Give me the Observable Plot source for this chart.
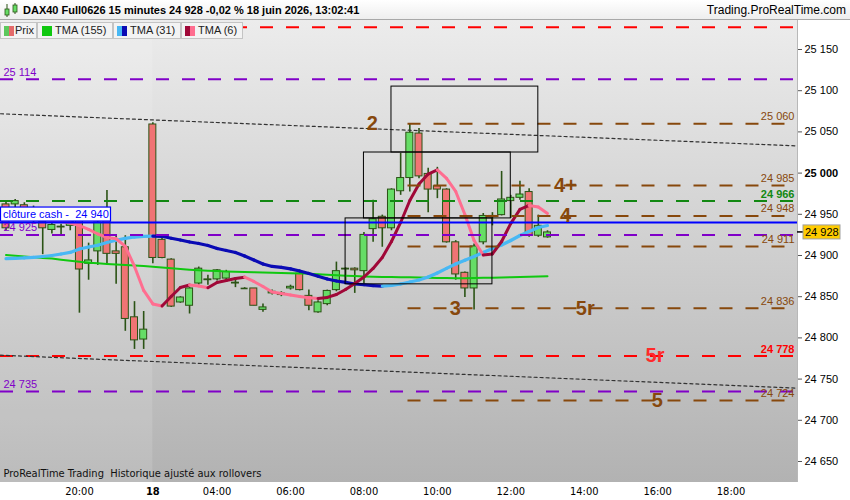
<!DOCTYPE html>
<html><head><meta charset="utf-8">
<script src="https://cdn.jsdelivr.net/npm/d3@7"></script>
<script src="https://cdn.jsdelivr.net/npm/@observablehq/plot@0.6"></script>
<style>
body{margin:0;background:#fff;font-family:"Liberation Sans",Arial,sans-serif;}
#wrap{position:relative;width:850px;height:500px;overflow:hidden;background:#fff;}
#chart{position:absolute;left:0;top:20px;}
#title{position:absolute;left:0;top:0;width:850px;height:20px;box-sizing:border-box;background:linear-gradient(#ffffff,#eeeeee);border-bottom:1px solid #a8a8a8;z-index:5;}
#title .t{position:absolute;left:23px;top:0;line-height:21px;font-size:11px;font-weight:bold;color:#000;white-space:nowrap;}
#title .r{position:absolute;right:4px;top:0;line-height:21px;font-size:12px;color:#000;}
#title svg{position:absolute;left:4px;top:3px;}
.lg{position:absolute;top:22px;height:17px;box-sizing:border-box;background:#f3f3f3;border:1px solid #c4c4c4;font-size:11px;color:#222;line-height:15px;z-index:4;white-space:nowrap;}
.lg i{position:absolute;top:3px;width:10px;height:10px;display:block;}
.lg span{position:absolute;top:0;}
</style></head>
<body>
<div id="wrap">
  <div id="title">
    <svg width="14" height="15"><line x1="3" y1="1" x2="3" y2="14" stroke="#2b5315"/><rect x="1" y="6" width="4" height="6" fill="#66dd66" stroke="#2b5315" stroke-width="0.8"/><line x1="11" y1="0" x2="11" y2="11" stroke="#2b5315"/><rect x="9" y="2" width="4" height="7" fill="#66dd66" stroke="#2b5315" stroke-width="0.8"/></svg>
    <div class="t">DAX40 Full0626 15 minutes 24 928 -0,02 % 18 juin 2026, 13:02:41</div>
    <div class="r">Trading.ProRealTime.com</div>
  </div>
  <div class="lg" style="left:0;width:37px;"><i style="left:3px;background:linear-gradient(90deg,#5cc85c 50%,#e46a6a 50%);"></i><span style="left:14px;">Prix</span></div>
  <div class="lg" style="left:37px;width:76px;"><i style="left:4px;background:#10c810;"></i><span style="left:17px;">TMA (155)</span></div>
  <div class="lg" style="left:113px;width:68px;"><i style="left:3px;background:linear-gradient(90deg,#48b8f4 50%,#0a0ab4 50%);"></i><span style="left:16px;">TMA (31)</span></div>
  <div class="lg" style="left:181px;width:62px;"><i style="left:3px;background:linear-gradient(90deg,#a00838 50%,#ff6e90 50%);"></i><span style="left:16px;">TMA (6)</span></div>
  <div id="chart"></div>
</div>
<script>
// ---------- data ----------
const times = [
 "17 18:00","17 18:15","17 18:30","17 18:45","17 19:00","17 19:15","17 19:30","17 19:45",
 "17 20:00","17 20:15","17 20:30","17 20:45","17 21:00","17 21:15","17 21:30","17 21:45",
 "18 02:15","18 02:30","18 02:45","18 03:00","18 03:15","18 03:30","18 03:45","18 04:00",
 "18 04:15","18 04:30","18 04:45","18 05:00","18 05:15","18 05:30","18 05:45","18 06:00",
 "18 06:15","18 06:30","18 06:45","18 07:00","18 07:15","18 07:30","18 07:45","18 08:00",
 "18 08:15","18 08:30","18 08:45","18 09:00","18 09:15","18 09:30","18 09:45","18 10:00",
 "18 10:15","18 10:30","18 10:45","18 11:00","18 11:15","18 11:30","18 11:45","18 12:00",
 "18 12:15","18 12:30","18 12:45","18 13:00"];
const open = [24962,24962,24961,24944,24941,24931,24934,24936,24942,24890,24905,24942,24905,24910,24825,24798,
 25059,24919,24895,24843,24839,24866,24870,24871,24872,24866,24860,24860,24834,24854,24852,24860,
 24878,24851,24831,24841,24858,24883,24884,24881,24932,24947,24933,24978,24994,25048,24999,24984,
 24980,24916,24879,24860,24916,24948,24949,24966,24970,24977,24924,24922];
const high = [24966,24968,24964,24960,24952,24940,24938,24946,24946,24915,24946,24979,24924,24924,24844,24832,
 25061,24921,24896,24850,24861,24886,24876,24883,24882,24870,24861,24860,24841,24858,24856,24864,
 24879,24858,24845,24858,24892,24885,24885,24928,24967,24949,24981,25024,25059,25054,25006,25007,
 24981,24918,24880,24914,24951,24952,25002,24973,24990,24981,24949,24930];
const low = [24930,24955,24945,24940,24901,24926,24924,24930,24830,24870,24888,24888,24865,24808,24786,24786,
 24890,24896,24837,24842,24829,24864,24864,24869,24870,24861,24860,24839,24831,24852,24850,24858,
 24857,24833,24830,24839,24856,24865,24854,24866,24916,24910,24930,24973,24977,24993,24952,24969,
 24915,24870,24849,24834,24913,24936,24948,24945,24967,24922,24922,24921];
const close = [24933,24966,24950,24956,24933,24937,24935,24941,24883,24894,24940,24902,24902,24823,24797,24810,
 24897,24897,24838,24849,24860,24884,24871,24882,24880,24867,24860,24839,24837,24856,24854,24862,
 24858,24839,24843,24857,24881,24884,24882,24925,24944,24933,24980,24994,25049,24996,24980,24980,
 24916,24877,24860,24911,24948,24947,24968,24970,24974,24924,24936,24928];
const tma155 = [24900.6,24899.7,24898.8,24898.0,24897.1,24896.3,24894.9,24893.6,24892.3,24891.2,24890.6,24889.8,24889.1,24888.4,24887.8,24887.2,
 24886.4,24885.5,24884.5,24883.5,24882.7,24882.0,24881.5,24881.1,24880.7,24880.4,24880.0,24879.6,24879.4,24879.0,24878.8,24878.6,
 24878.3,24877.7,24877.2,24876.6,24876.0,24875.5,24875.0,24874.6,24874.2,24873.9,24873.8,24873.7,24873.5,24873.2,24873.0,24872.7,
 24872.6,24872.5,24872.5,24872.6,24872.9,24873.1,24873.3,24873.6,24873.9,24874.3,24874.6,24874.8];
const tma31 = [24896.1,24896.6,24897.1,24897.8,24898.8,24900.0,24901.8,24903.7,24907.9,24910.3,24912.4,24915.8,24918.5,24920.7,24922.4,24923.1,
 24923.5,24923.3,24920.9,24918.8,24916.4,24914.6,24912.2,24908.5,24906.1,24903.7,24899.4,24894.6,24889.7,24886.7,24885.5,24883.7,
 24881.2,24878.2,24874.8,24871.5,24869.1,24867.3,24865.4,24864.5,24863.4,24862.8,24863.6,24865.4,24867.9,24870.3,24873.9,24878.8,
 24884.3,24889.7,24894.2,24898.8,24903.7,24908.5,24912.8,24918.2,24924.3,24929.2,24934.0,24936.4];
const tma6 = [24952.2,24951.0,24949.8,24947.4,24944.9,24942.5,24941.3,24939.5,24936.4,24931.6,24926.1,24921.9,24920.3,24911.0,24886.7,24857.6,
 24841.2,24838.7,24850.3,24861.2,24864.2,24863.0,24860.8,24867.3,24869.7,24872.1,24873.7,24868.5,24862.4,24855.7,24853.9,24852.1,
 24850.3,24848.7,24847.9,24849.1,24852.7,24858.8,24866.1,24873.9,24884.3,24897.6,24917.0,24940.1,24966.8,24986.8,24998.9,25003.8,
 24993.5,24977.7,24949.8,24918.2,24900.6,24901.9,24917.0,24938.9,24955.9,24960.7,24958.9,24951.0];

const redLevels = [25177, 24778];
const purpleLevels = [25114, 24925, 24735];
const greenLevels = [24966];
const blueLevels = [24940];
const brownLevels = [25060, 24985, 24948, 24911, 24836, 24724];
const brownStart = 9.2;
const cashLabel = "clôture cash -  24 940";
const lastPrice = 24928;

const boxes = [
 {h1: 8.75, h2: 12.75, v1: 25025, v2: 25105},
 {h1: 8.0, h2: 12.0, v1: 24945, v2: 25025},
 {h1: 7.5, h2: 11.5, v1: 24865, v2: 24945}];
const trend1 = [{h: -1.9, v: 25072}, {h: 19.81, v: 25033}];
const trend2 = [{h: -1.9, v: 24779}, {h: 19.81, v: 24739}];

const waveLabels = ["2","4+","4","3","5r","5r","5"];
const waveH = [8.23, 13.49, 13.49, 10.49, 14.03, 15.93, 15.99];
const waveV = [25060, 24985, 24948, 24836, 24836, 24778, 24724];
const waveRed = [false,false,false,false,false,true,false];

const xTickPos = [0.25, 2.25, 4, 6, 8, 10, 12, 14, 16, 18];
const xTickLabels = ["20:00","18","04:00","06:00","08:00","10:00","12:00","14:00","16:00","18:00"];
const yTicks = [24650,24700,24750,24800,24850,24900,24950,25000,25050,25100,25150];

// ---------- styles ----------
const BROWN = "#87480c", PURPLE = "#8000c8", GREEN = "#128812", RED = "#ff0000", BLUE = "#0000ff";
const WICK = "#2b5315", UPC = "#66dd66", DNC = "#f07474";
const xDomain = [-1.9, 19.81];
const yDomain = [24624.5, 25185.2];
const fmt = v => d3.format(",")(Math.round(v)).replace(/,/g, " ");

const toH = t => { const [d, hm] = t.split(" "); const [H, M] = hm.split(":").map(Number); const v = H + M / 60; return d === "17" ? v - 19.75 : v; };
const bars = times.map((t, i) => ({h: toH(t), o: open[i], hi: high[i], lo: low[i], c: close[i]}));
const bodies = bars.filter(b => b.o !== b.c);
const dojis = bars.filter(b => b.o === b.c);
const HW = 0.0953;

function segs(vals, upC, dnC) {
  return bars.slice(1).map((b, i) => ({h1: bars[i].h, v1: vals[i], h2: b.h, v2: vals[i + 1], col: vals[i + 1] >= vals[i] ? upC : dnC}));
}
const s31 = segs(tma31, "#48b8f4", "#0a0ab4");
const s6 = segs(tma6, "#a00838", "#ff6e90");
const waves = waveLabels.map((t, i) => ({t, h: waveH[i], v: waveV[i], c: waveRed[i] ? "#ff2a2a" : BROWN}));

const rightLabels = [
  ...brownLevels.map(v => ({v, c: BROWN, w: "normal"})),
  {v: greenLevels[0], c: GREEN, w: "bold"},
  {v: redLevels[1], c: RED, w: "bold"}];

const chart = Plot.plot({
  width: 850, height: 480,
  marginTop: 0, marginBottom: 18, marginLeft: 0, marginRight: 53,
  style: {background: "transparent", fontFamily: "'Liberation Sans', Arial, sans-serif", fontSize: "11px", overflow: "visible", color: "#000"},
  color: {type: "identity"},
  x: {domain: xDomain, ticks: xTickPos, tickFormat: d => xTickLabels[xTickPos.indexOf(d)], tickSize: 0, tickPadding: 5, label: null},
  y: {domain: yDomain, axis: "right", ticks: yTicks, tickFormat: fmt, tickSize: 4, tickPadding: 3, label: null},
  marks: [
    Plot.rect([0], {x1: xDomain[0], x2: 2.25, y1: yDomain[0], y2: yDomain[1], fill: "#ffffff", fillOpacity: 0.13}),
    Plot.ruleX(bars, {x: "h", y1: "lo", y2: "hi", stroke: WICK, strokeWidth: 1.6}),
    Plot.rect(bodies, {x1: d => d.h - HW, x2: d => d.h + HW, y1: d => Math.min(d.o, d.c), y2: d => Math.max(d.o, d.c), fill: d => d.c > d.o ? UPC : DNC, stroke: WICK, strokeWidth: 1}),
    Plot.ruleY(dojis, {y: "o", x1: d => d.h - HW, x2: d => d.h + HW, stroke: WICK, strokeWidth: 1.6}),
    Plot.line(bars, {x: "h", y: (d, i) => tma155[i], stroke: "#10c810", strokeWidth: 2}),
    Plot.link(s31, {x1: "h1", y1: "v1", x2: "h2", y2: "v2", stroke: "col", strokeWidth: 3.2, strokeLinecap: "round"}),
    Plot.link(s6, {x1: "h1", y1: "v1", x2: "h2", y2: "v2", stroke: "col", strokeWidth: 3, strokeLinecap: "round"}),
    Plot.ruleY(redLevels, {stroke: RED, strokeWidth: 2, strokeDasharray: "13,13"}),
    Plot.ruleY(purpleLevels, {stroke: PURPLE, strokeWidth: 2, strokeDasharray: "13,13"}),
    Plot.ruleY(greenLevels, {stroke: GREEN, strokeWidth: 2, strokeDasharray: "13,13"}),
    Plot.ruleY(brownLevels, {x1: brownStart, x2: xDomain[1], stroke: BROWN, strokeWidth: 2, strokeDasharray: "13,13"}),
    Plot.ruleY(blueLevels, {stroke: BLUE, strokeWidth: 2}),
    Plot.line(trend1, {x: "h", y: "v", stroke: "#333", strokeWidth: 1.2, strokeDasharray: "3,3"}),
    Plot.line(trend2, {x: "h", y: "v", stroke: "#333", strokeWidth: 1.2, strokeDasharray: "3,3"}),
    Plot.rect(boxes, {x1: "h1", x2: "h2", y1: "v1", y2: "v2", fill: "none", stroke: "#000", strokeWidth: 1}),
    Plot.ruleX([xDomain[1]], {stroke: "#b8b8b8", strokeWidth: 1}),
    Plot.text(waves, {x: "h", y: "v", text: "t", fill: "c", fontSize: 20, fontWeight: "bold"}),
    Plot.text(rightLabels.filter(d => d.w === "normal"), {x: xDomain[1], y: "v", text: d => fmt(d.v), fill: "c", textAnchor: "end", dx: -3, dy: -7, fontSize: 11}),
    Plot.text(rightLabels.filter(d => d.w === "bold"), {x: xDomain[1], y: "v", text: d => fmt(d.v), fill: "c", textAnchor: "end", dx: -3, dy: -7, fontSize: 11, fontWeight: "bold"}),
    Plot.text(purpleLevels, {x: xDomain[0], y: d => d, text: d => fmt(d), fill: PURPLE, textAnchor: "start", dx: 3, dy: -7, fontSize: 11}),
    Plot.text(["ProRealTime Trading  Historique ajusté aux rollovers"], {frameAnchor: "bottom-left", text: d => d, dx: 3, dy: -6, fill: "#111", fontSize: 11, fontFamily: "'Liberation Sans Narrow','DejaVu Sans Condensed',sans-serif", textAnchor: "start"})
  ]
});
document.getElementById("chart").appendChild(chart);

// ---------- decorations using the plot's scales ----------
const svg = d3.select(chart);
const xs = chart.scale("x"), ys = chart.scale("y");
const [rx0, rx1] = xs.range, [ry0, ry1] = ys.range;
const defs = svg.insert("defs", "g");
const g = defs.append("linearGradient").attr("id", "bgGrad").attr("x1", 0).attr("y1", 0).attr("x2", 0).attr("y2", 1);
g.append("stop").attr("offset", "0%").attr("stop-color", "#ececec");
g.append("stop").attr("offset", "100%").attr("stop-color", "#b2b2b2");
svg.insert("rect", "g").attr("x", rx0).attr("y", Math.min(ry0, ry1)).attr("width", rx1 - rx0).attr("height", Math.abs(ry0 - ry1)).attr("fill", "url(#bgGrad)");

svg.selectAll('g[aria-label^="x-axis"] text').attr("font-family", "'Liberation Sans Narrow','DejaVu Sans Condensed',sans-serif").attr("font-size", 11)
  .attr("font-weight", function() { return this.textContent === "18" ? "bold" : null; });
svg.selectAll('g[aria-label^="y-axis"] text').attr("font-size", 11)
  .attr("font-weight", function() { return this.textContent === "25 000" ? "bold" : null; });
svg.selectAll('g[aria-label^="y-axis"] line, g[aria-label^="y-axis"] path').attr("stroke", "#555");

// current price tag
const yp = ys.apply(lastPrice);
svg.append("line").attr("x1", rx1).attr("x2", rx1 + 6).attr("y1", yp).attr("y2", yp).attr("stroke", "#000").attr("stroke-width", 1.5);
svg.append("rect").attr("x", rx1 + 6).attr("y", yp - 7).attr("width", 37).attr("height", 14).attr("fill", "#ffcc00").attr("stroke", "#a0a0a0");
svg.append("text").attr("x", rx1 + 8).attr("y", yp).attr("dy", "0.35em").attr("text-anchor", "start").attr("font-size", 11).attr("fill", "#000").text(fmt(lastPrice));

// cash close label box
const yc = ys.apply(blueLevels[0]);
const lab = svg.append("g");
lab.append("rect").attr("x", rx0 + 0.5).attr("y", yc - 15).attr("width", 110).attr("height", 14).attr("fill", "#fff").attr("stroke", BLUE).attr("stroke-width", 1.2);
lab.append("text").attr("x", rx0 + 3).attr("y", yc - 8).attr("dy", "0.35em").attr("text-anchor", "start").attr("font-size", 11).attr("fill", BLUE).text(cashLabel);
</script>
</body></html>
